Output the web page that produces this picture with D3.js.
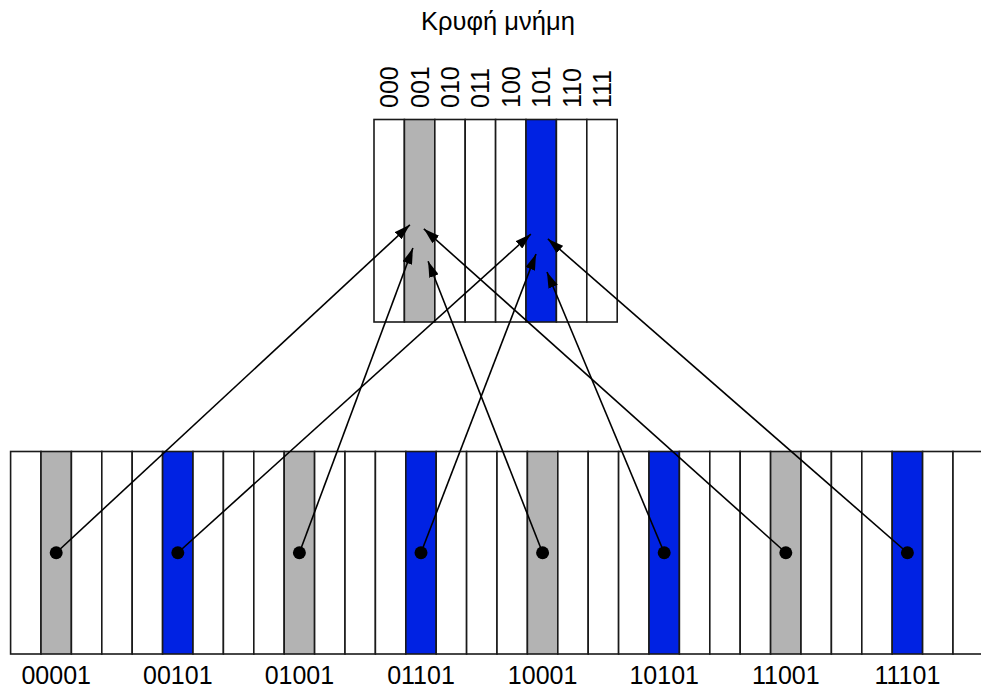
<!DOCTYPE html>
<meta charset="utf-8">
<script src="https://d3js.org/d3.v7.js"></script>
<style>
  body { margin: 0; background: #fff; }
  svg text { font-family: "Liberation Sans", Arial, sans-serif; fill: #000; }
</style>
<body>
<div id="my_dataviz"></div>
<script>
    const width = 981,
        height = 687;

    // memory: 32 blocks, labelled ones every 4th starting at 1
    const memCount = 32
    const memLabels = ['00001', '00101', '01001', '01101', '10001', '10101', '11001', '11101']
    const memIndex = [1, 5, 9, 13, 17, 21, 25, 29]
    // cache: 8 lines
    const cacheLabels = ['000', '001', '010', '011', '100', '101', '110', '111']
    const cacheColor = ['white', 'gray', 'white', 'white', 'white', 'blue', 'white', 'white']
    // where each arrow lands inside the cache (cache column units, fraction of cache height)
    const arrowCol = [1.18, 5.16, 1.28, 5.33, 1.78, 5.69, 1.64, 5.72]
    const arrowRow = [0.52, 0.566, 0.635, 0.664, 0.70, 0.753, 0.54, 0.59]
    const title = 'Κρυφή μνήμη'

    const cellW = 30.4
    const fills = { white: '#ffffff', gray: '#b3b3b3', blue: '#0022e3' }

    const xMem = d3.scaleLinear().domain([0, memCount]).range([10.6, 10.6 + memCount * cellW])
    const xCache = d3.scaleLinear().domain([0, 8]).range([374, 374 + 8 * cellW])
    const yMem = d3.scaleLinear().domain([0, 1]).range([451.5, 654])
    const yCache = d3.scaleLinear().domain([0, 1]).range([119.5, 322])

    const svg = d3.select("#my_dataviz")
      .append("svg")
        .attr("width", width)
        .attr("height", height)

    svg.append("defs").append("marker")
        .attr("id", "head")
        .attr("markerUnits", "userSpaceOnUse")
        .attr("viewBox", "0 0 16 10")
        .attr("refX", 16)
        .attr("refY", 5)
        .attr("markerWidth", 16)
        .attr("markerHeight", 10)
        .attr("orient", "auto")
      .append("path")
        .attr("d", "M0,0 L16,5 L0,10 Z")
        .attr("fill", "#000")

    // memory cells
    const memColor = i => {
      const k = memIndex.indexOf(i)
      if (k < 0) return fills.white
      return k % 2 == 0 ? fills.gray : fills.blue
    }
    svg.selectAll('memCell')
      .data(d3.range(memCount))
      .join('rect')
        .attr('x', d => xMem(d))
        .attr('y', yMem(0))
        .attr('width', cellW)
        .attr('height', yMem(1) - yMem(0))
        .attr('fill', d => memColor(d))
        .attr('stroke', '#1a1a1a')
        .attr('stroke-width', 1.6)

    // cache cells
    svg.selectAll('cacheCell')
      .data(cacheColor)
      .join('rect')
        .attr('x', (d, i) => xCache(i))
        .attr('y', yCache(0))
        .attr('width', cellW)
        .attr('height', yCache(1) - yCache(0))
        .attr('fill', d => fills[d])
        .attr('stroke', '#1a1a1a')
        .attr('stroke-width', 1.6)

    // arrows from memory blocks to cache lines
    svg.selectAll('arrows')
      .data(memIndex)
      .join('line')
        .attr('x1', d => xMem(d + 0.5))
        .attr('y1', yMem(0.5))
        .attr('x2', (d, i) => xCache(arrowCol[i]))
        .attr('y2', (d, i) => yCache(arrowRow[i]))
        .attr('stroke', '#000')
        .attr('stroke-width', 1.6)
        .attr('marker-end', 'url(#head)')

    svg.selectAll('dots')
      .data(memIndex)
      .join('circle')
        .attr('cx', d => xMem(d + 0.5))
        .attr('cy', yMem(0.5))
        .attr('r', 6.5)
        .attr('fill', '#000')

    // labels
    svg.selectAll('memLabel')
      .data(memLabels)
      .join('text')
        .text(d => d)
        .attr('x', (d, i) => xMem(memIndex[i] + 0.5))
        .attr('y', 684)
        .style('text-anchor', 'middle')
        .style('font-size', '25px')

    svg.selectAll('cacheLabel')
      .data(cacheLabels)
      .join('text')
        .text(d => d)
        .attr('transform', (d, i) => `translate(${xCache(i + 0.5) + 9}, 108) rotate(-90)`)
        .style('text-anchor', 'start')
        .style('font-size', '25px')

    svg.append('text')
        .text(title)
        .attr('x', 498)
        .attr('y', 30)
        .style('text-anchor', 'middle')
        .style('font-size', '25.5px')
</script>
</body>
